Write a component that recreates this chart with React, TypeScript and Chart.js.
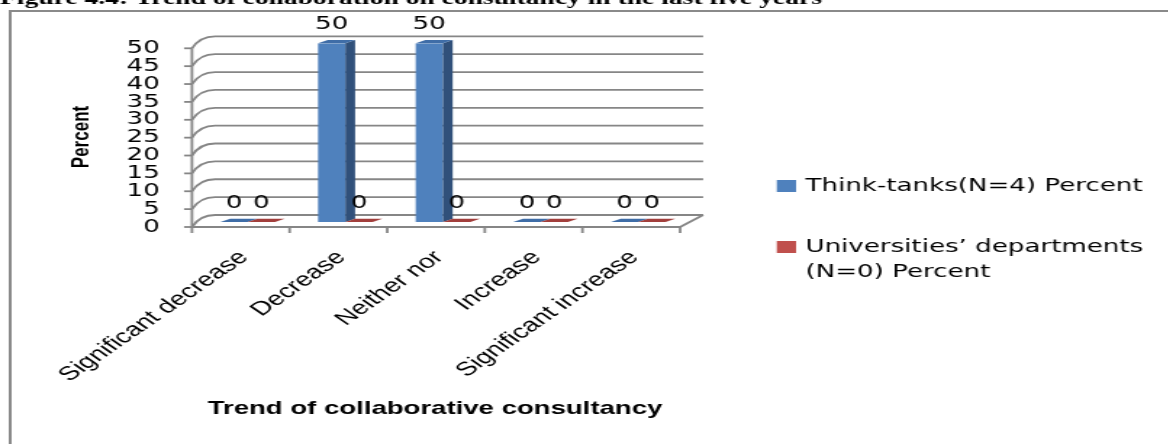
import React, { useEffect, useRef } from "react";
import { Chart, registerables } from "chart.js";

Chart.register(...registerables);

// ---------- data ----------
const categories = ["Significant decrease", "Decrease", "Neither nor", "Increase", "Significant increase"];
const thinkTanks = [0, 50, 50, 0, 0];
const universities = [0, 0, 0, 0, 0];
const seriesNames = ["Think-tanks(N=4) Percent", "Universities’ departments (N=0) Percent"];
const yMin = 0;
const yMax = 50;
const yStep = 5;
const chartTitle = "Figure 4.4: Trend of collaboration on consultancy in the last five years";
const xAxisTitle = "Trend of collaborative consultancy";
const yAxisTitle = "Percent";

// ---------- styles / layout ----------
const seriesColors = ["#4F81BD", "#C0504D"];
const seriesSideColors = ["#30507A", "#7E2F2D"];
const seriesTopColors = ["#3F6DA7", "#A23F3C"];
const GRID = "#868686";
const STRETCH = 1.45;
const W = 806;
const H = 444;
const PLOT_LEFT = 137.2;
const PLOT_RIGHT = 473.8;
const PLOT_TOP = 43.3;
const PLOT_BOTTOM = 222;
const FRONT = { dx: -4.8, dy: 5 };
const BACK = { dx: 11.1, dy: -7 };
const BAR_DEPTH = { dx: 6.7, dy: -3.3 };
const SANS = '"DejaVu Sans", sans-serif';
const ARIAL = '"Liberation Sans", Arial, sans-serif';

function wrap(ctx: CanvasRenderingContext2D, text: string, maxW: number): string[] {
  const words = text.split(" ");
  const lines: string[] = [];
  let cur = "";
  for (const w of words) {
    const t = cur ? cur + " " + w : w;
    if (ctx.measureText(t).width > maxW && cur) {
      lines.push(cur);
      cur = w;
    } else cur = t;
  }
  if (cur) lines.push(cur);
  return lines;
}

const threeD = {
  id: "threeD",
  beforeDatasetsDraw(chart: any) {
    const { ctx, chartArea: a, scales } = chart;
    const x = scales.x;
    const y = scales.y;
    const fl = a.left + FRONT.dx;
    const fr = a.right + FRONT.dx;
    const bl = a.left + BACK.dx;
    const br = a.right + BACK.dx;
    ctx.save();
    ctx.strokeStyle = GRID;
    ctx.lineWidth = 1.8;
    for (const t of y.ticks) {
      const py = y.getPixelForValue(t.value);
      const yf = py + FRONT.dy;
      const yb = py + BACK.dy;
      ctx.beginPath();
      ctx.moveTo(fl, yf);
      ctx.quadraticCurveTo(fl + (bl - fl) * 0.35, yb, bl, yb);
      ctx.lineTo(br, yb);
      ctx.stroke();
      ctx.beginPath();
      ctx.moveTo(fl - 5.5, yf);
      ctx.lineTo(fl, yf);
      ctx.stroke();
    }
    const y0 = y.getPixelForValue(yMin);
    const yT = y.getPixelForValue(yMax);
    ctx.beginPath();
    ctx.moveTo(fl, yT + FRONT.dy);
    ctx.lineTo(fl, y0 + FRONT.dy);
    ctx.lineTo(fr, y0 + FRONT.dy);
    ctx.lineTo(br, y0 + BACK.dy);
    ctx.stroke();
    const n = categories.length;
    const catW = (a.right - a.left) / n;
    for (let i = 0; i <= n; i++) {
      const px = (i < n ? x.getPixelForValue(i) - catW / 2 : x.getPixelForValue(n - 1) + catW / 2) + FRONT.dx;
      ctx.beginPath();
      ctx.moveTo(px, y0 + FRONT.dy);
      ctx.lineTo(px, y0 + FRONT.dy + 6);
      ctx.stroke();
    }
    ctx.restore();
  },
  afterDatasetsDraw(chart: any) {
    const { ctx } = chart;
    ctx.save();
    chart.data.datasets.forEach((ds: any, di: number) => {
      const meta = chart.getDatasetMeta(di);
      meta.data.forEach((bar: any) => {
        const { x: bx, y: by, base, width } = bar.getProps(["x", "y", "base", "width"], true);
        const l = bx - width / 2;
        const r = bx + width / 2;
        if (base - by > 0.5) {
          ctx.fillStyle = seriesSideColors[di];
          ctx.beginPath();
          ctx.moveTo(r, by);
          ctx.lineTo(r + BAR_DEPTH.dx, by + BAR_DEPTH.dy);
          ctx.lineTo(r + BAR_DEPTH.dx, base + BAR_DEPTH.dy);
          ctx.lineTo(r, base);
          ctx.closePath();
          ctx.fill();
        }
        ctx.fillStyle = seriesTopColors[di];
        ctx.beginPath();
        ctx.moveTo(l, by);
        ctx.lineTo(r, by);
        ctx.lineTo(r + BAR_DEPTH.dx, by + BAR_DEPTH.dy);
        ctx.lineTo(l + BAR_DEPTH.dx, by + BAR_DEPTH.dy);
        ctx.closePath();
        ctx.fill();
      });
    });
    ctx.fillStyle = "#000";
    ctx.font = `18px ${SANS}`;
    ctx.textAlign = "center";
    ctx.textBaseline = "middle";
    chart.data.datasets.forEach((ds: any, di: number) => {
      const meta = chart.getDatasetMeta(di);
      meta.data.forEach((bar: any, i: number) => {
        const { x: bx, y: by } = bar.getProps(["x", "y"], true);
        ctx.fillText(String(ds.data[i]), bx, by - 19);
      });
    });
    ctx.restore();
  },
  afterDraw(chart: any) {
    const { ctx } = chart;
    ctx.save();
    // frame
    ctx.strokeStyle = "#8a8a8a";
    ctx.lineWidth = 2;
    ctx.beginPath();
    ctx.moveTo(7, H + 5);
    ctx.lineTo(7, 11);
    ctx.lineTo(W + 5, 11);
    ctx.stroke();
    // figure title (cut at top)
    ctx.fillStyle = "#000";
    ctx.font = `bold 19px "Liberation Serif", serif`;
    ctx.textAlign = "left";
    ctx.textBaseline = "alphabetic";
    ctx.fillText(chartTitle, 0, 4);
    // y title
    ctx.save();
    ctx.translate(56.6, 137);
    ctx.rotate(-Math.PI / 2);
    ctx.font = `bold 17px ${ARIAL}`;
    ctx.textAlign = "center";
    ctx.textBaseline = "middle";
    ctx.fillText(yAxisTitle, 0, 0);
    ctx.restore();
    // x title
    ctx.font = `bold 19px ${ARIAL}`;
    ctx.textAlign = "center";
    ctx.textBaseline = "middle";
    ctx.fillText(xAxisTitle, 300, 409);
    // legend
    ctx.font = `18px ${SANS}`;
    ctx.textAlign = "left";
    const starts = [186, 247];
    seriesNames.forEach((name, i) => {
      const lines = wrap(ctx, name, 250);
      const yc = starts[i];
      ctx.fillStyle = seriesColors[i];
      ctx.fillRect(535.7, yc - 6, 13.3, 12);
      ctx.fillStyle = "#000";
      lines.forEach((ln, k) => ctx.fillText(ln, 555.5, yc + k * 25.5));
    });
    ctx.restore();
  },
};

export default function App() {
  const ref = useRef<HTMLCanvasElement | null>(null);
  useEffect(() => {
    if (!ref.current) return;
    const chart = new Chart(ref.current, {
      type: "bar",
      data: {
        labels: categories,
        datasets: [
          { label: seriesNames[0], data: thinkTanks, backgroundColor: seriesColors[0], borderWidth: 0, categoryPercentage: 0.56, barPercentage: 1 },
          { label: seriesNames[1], data: universities, backgroundColor: seriesColors[1], borderWidth: 0, categoryPercentage: 0.56, barPercentage: 1 },
        ],
      },
      options: {
        responsive: false,
        animation: false,
        layout: { padding: { top: PLOT_TOP, right: W - PLOT_RIGHT, left: 0, bottom: 0 } },
        plugins: { legend: { display: false }, tooltip: { enabled: false }, title: { display: false } },
        scales: {
          x: {
            grid: { display: false, drawTicks: false },
            border: { display: false },
            ticks: {
              font: { family: ARIAL, size: 19.5 },
              color: "#000",
              minRotation: 45,
              maxRotation: 45,
              autoSkip: false,
              padding: 24,
              labelOffset: -2.7,
            },
            afterFit: (s: any) => {
              s.height = H - PLOT_BOTTOM;
            },
          },
          y: {
            min: yMin,
            max: yMax,
            grid: { display: false, drawTicks: false },
            border: { display: false },
            ticks: {
              stepSize: yStep,
              autoSkip: false,
              font: { family: SANS, size: 18 },
              color: "#000",
              padding: 27,
              labelOffset: FRONT.dy,
            },
            afterFit: (s: any) => {
              s.width = PLOT_LEFT;
            },
          },
        },
      },
      plugins: [threeD],
    });
    return () => chart.destroy();
  }, []);
  return (
    <div style={{ position: "fixed", left: 0, top: 0, width: 1168, height: 444, overflow: "hidden", background: "#fff" }}>
      <div style={{ width: W, height: H, transform: `scaleX(${STRETCH})`, transformOrigin: "0 0" }}>
        <canvas ref={ref} width={W} height={H} style={{ display: "block" }} />
      </div>
    </div>
  );
}
